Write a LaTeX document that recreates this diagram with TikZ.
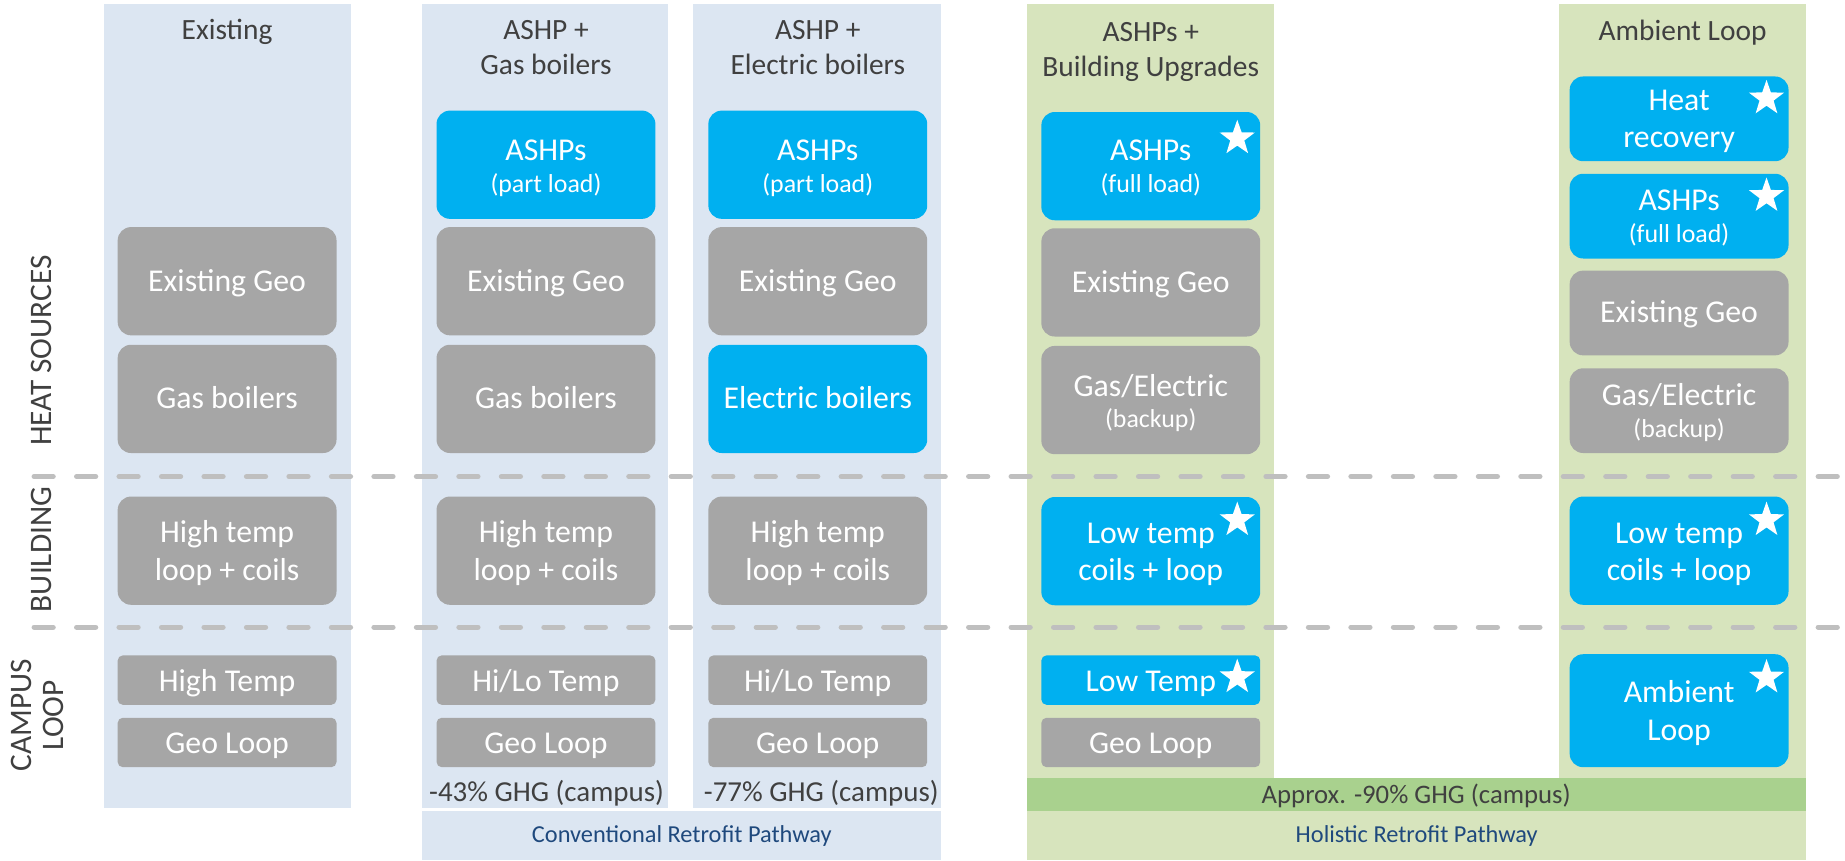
\documentclass[tikz,border=0pt]{standalone}
\usepackage{fontspec}
\setmainfont{Carlito}
\usetikzlibrary{shapes.geometric}
\definecolor{bgblue}{HTML}{DCE6F2}
\definecolor{bggreen}{HTML}{D7E4BD}
\definecolor{bandgreen}{HTML}{A9D18E}
\definecolor{boxblue}{HTML}{00B0F0}
\definecolor{boxgray}{HTML}{A6A6A6}
\definecolor{txtdark}{HTML}{404040}
\definecolor{pathblue}{HTML}{1F497D}
\definecolor{dashgray}{HTML}{BFBFBF}
\begin{document}
\begin{tikzpicture}[x=0.5pt,y=-0.5pt,
  bx/.style={rounded corners=5.7pt, minimum width=93pt, inner sep=0pt},
  gbx/.style={bx, fill=boxgray},
  bbx/.style={bx, fill=boxblue},
  hbig/.style={minimum height=46pt},
  hmid/.style={minimum height=36pt},
  htall/.style={minimum height=48pt},
  hsmall/.style={minimum height=21pt, rounded corners=2.2pt},
  bt/.style={anchor=base, inner sep=0pt, text=white, font=\fontsize{13.5}{16}\selectfont},
  bts/.style={anchor=base, inner sep=0pt, text=white, font=\fontsize{11}{13}\selectfont},
  starw/.style={star, star points=5, star point ratio=2.5, fill=white, draw=none,
                minimum size=15.7pt, inner sep=0pt},
  ttl/.style={anchor=base, text=txtdark, font=\fontsize{12.5}{15}\selectfont, inner sep=0pt},
  ghg/.style={anchor=base, text=txtdark, font=\fontsize{12.3}{14}\selectfont, inner sep=0pt},
  ghgb/.style={anchor=base, text=txtdark, font=\fontsize{11.35}{13}\selectfont, inner sep=0pt},
  pathw/.style={anchor=base, text=pathblue, font=\fontsize{10.35}{12}\selectfont, inner sep=0pt},
  rowl/.style={rotate=90, anchor=base, text=txtdark, font=\fontsize{13.3}{14}\selectfont, inner sep=0pt},
  sepline/.style={draw=dashgray, line width=2.2pt, line cap=round, dash pattern=on 8.1pt off 9.95pt}
]
\useasboundingbox (0,0) rectangle (1568,731);

% column backgrounds
\fill[bgblue] (88,3) rectangle (298,687);
\fill[bgblue] (359,3) rectangle (568,687);
\fill[bgblue] (589,3) rectangle (800,687);
\fill[bgblue] (359,689) rectangle (800,731);
\fill[bggreen] (873,3) rectangle (1083,661.5);
\fill[bggreen] (1325,3) rectangle (1535,661.5);
\fill[bandgreen] (873,661.5) rectangle (1535,689.3);
\fill[bggreen] (873,689.3) rectangle (1535,731);

% separators
\coordinate (s1a) at (29,405); \coordinate (s1b) at (1568,405);
\coordinate (s2a) at (29,533); \coordinate (s2b) at (1568,533);
\draw[sepline] (s1a) -- (s1b);
\draw[sepline] (s2a) -- (s2b);

% row labels
\node[rowl] (lheat) at (43.9,298) {HEAT SOURCES};
\node[rowl] (lbuild) at (43.9,467) {BUILDING};
\node[rowl] (lcampus) at (27,608) {CAMPUS};
\node[rowl] (lloop) at (53.8,608) {LOOP};

% titles
\node[ttl] (t1) at (193,34) {Existing};
\node[ttl] (t2a) at (464,33.5) {ASHP +};
\node[ttl] (t2b) at (464,63) {Gas boilers};
\node[ttl] (t3a) at (695,33.5) {ASHP +};
\node[ttl] (t3b) at (695,63) {Electric boilers};
\node[ttl] (t4a) at (978,35.2) {ASHPs +};
\node[ttl] (t4b) at (978,64.6) {Building Upgrades};
\node[ttl] (t5) at (1430,34.5) {Ambient Loop};

% column 1
\node[gbx,hbig] (c1geo) at (193,239) {};
\node[bt] (c1geo-t) at (193,247.5) {Existing Geo};
\node[gbx,hbig] (c1gas) at (193,339) {};
\node[bt] (c1gas-t) at (193,347.5) {Gas boilers};
\node[gbx,hbig] (c1ht) at (193,468) {};
\node[bt] (c1ht-t1) at (193,461) {High temp};
\node[bt] (c1ht-t2) at (193,493) {loop + coils};
\node[gbx,hsmall] (c1hl) at (193,578) {};
\node[bt] (c1hl-t) at (193,587.5) {High Temp};
\node[gbx,hsmall] (c1gl) at (193,631) {};
\node[bt] (c1gl-t) at (193,640.5) {Geo Loop};

% column 2
\node[bbx,hbig] (c2ashp) at (464,140) {};
\node[bt] (c2ashp-t1) at (464,136.8) {ASHPs};
\node[bts] (c2ashp-t2) at (464,163.7) {(part load)};
\node[gbx,hbig] (c2geo) at (464,239) {};
\node[bt] (c2geo-t) at (464,247.5) {Existing Geo};
\node[gbx,hbig] (c2gas) at (464,339) {};
\node[bt] (c2gas-t) at (464,347.5) {Gas boilers};
\node[gbx,hbig] (c2ht) at (464,468) {};
\node[bt] (c2ht-t1) at (464,461) {High temp};
\node[bt] (c2ht-t2) at (464,493) {loop + coils};
\node[gbx,hsmall] (c2hl) at (464,578) {};
\node[bt] (c2hl-t) at (464,587.5) {Hi/Lo Temp};
\node[gbx,hsmall] (c2gl) at (464,631) {};
\node[bt] (c2gl-t) at (464,640.5) {Geo Loop};
\node[ghg] (g2) at (464.5,681) {-43\% GHG (campus)};

% column 3
\node[bbx,hbig] (c3ashp) at (695,140) {};
\node[bt] (c3ashp-t1) at (695,136.8) {ASHPs};
\node[bts] (c3ashp-t2) at (695,163.7) {(part load)};
\node[gbx,hbig] (c3geo) at (695,239) {};
\node[bt] (c3geo-t) at (695,247.5) {Existing Geo};
\node[bbx,hbig] (c3el) at (695,339) {};
\node[bt] (c3el-t) at (695,347.5) {Electric boilers};
\node[gbx,hbig] (c3ht) at (695,468) {};
\node[bt] (c3ht-t1) at (695,461) {High temp};
\node[bt] (c3ht-t2) at (695,493) {loop + coils};
\node[gbx,hsmall] (c3hl) at (695,578) {};
\node[bt] (c3hl-t) at (695,587.5) {Hi/Lo Temp};
\node[gbx,hsmall] (c3gl) at (695,631) {};
\node[bt] (c3gl-t) at (695,640.5) {Geo Loop};
\node[ghg] (g3) at (698,681) {-77\% GHG (campus)};

\node[pathw] (pc) at (579.5,716) {Conventional Retrofit Pathway};

% column 4
\node[bbx,hbig] (c4ashp) at (978,141.2) {};
\node[bt] (c4ashp-t1) at (978,136.8) {ASHPs};
\node[bts] (c4ashp-t2) at (978,163.7) {(full load)};
\node[gbx,hbig] (c4geo) at (978,240) {};
\node[bt] (c4geo-t) at (978,248.5) {Existing Geo};
\node[gbx,hbig] (c4gas) at (978,340) {};
\node[bt] (c4gas-t1) at (978,336.8) {Gas/Electric};
\node[bts] (c4gas-t2) at (978,363.7) {(backup)};
\node[bbx,hbig] (c4lt) at (978,468.4) {};
\node[bt] (c4lt-t1) at (978,461.7) {Low temp};
\node[bt] (c4lt-t2) at (978,493.5) {coils + loop};
\node[bbx,hsmall] (c4lo) at (978,578) {};
\node[bt] (c4lo-t) at (978,587.5) {Low Temp};
\node[gbx,hsmall] (c4gl) at (978,631) {};
\node[bt] (c4gl-t) at (978,640.5) {Geo Loop};
\node[starw] (st41) at (1051.5,117.5) {};
\node[starw] (st42) at (1051.5,442) {};
\node[starw] (st43) at (1051.5,575.5) {};

% column 5
\node[bbx,hmid] (c5hr) at (1427,101) {};
\node[bt] (c5hr-t1) at (1427,94.1) {Heat};
\node[bt] (c5hr-t2) at (1427,125.2) {recovery};
\node[bbx,hmid] (c5ashp) at (1427,183.7) {};
\node[bt] (c5ashp-t1) at (1427,178.5) {ASHPs};
\node[bts] (c5ashp-t2) at (1427,206.2) {(full load)};
\node[gbx,hmid] (c5geo) at (1427,266) {};
\node[bt] (c5geo-t) at (1427,274.5) {Existing Geo};
\node[gbx,hmid] (c5gas) at (1427,349) {};
\node[bt] (c5gas-t1) at (1427,344.5) {Gas/Electric};
\node[bts] (c5gas-t2) at (1427,372) {(backup)};
\node[bbx,hbig] (c5lt) at (1427,468) {};
\node[bt] (c5lt-t1) at (1427,461.5) {Low temp};
\node[bt] (c5lt-t2) at (1427,493.5) {coils + loop};
\node[bbx,htall] (c5amb) at (1427,604) {};
\node[bt] (c5amb-t1) at (1427,596.9) {Ambient};
\node[bt] (c5amb-t2) at (1427,628.9) {Loop};
\node[starw] (st51) at (1501.3,83.6) {};
\node[starw] (st52) at (1501.3,166.5) {};
\node[starw] (st53) at (1501.3,442) {};
\node[starw] (st54) at (1501.3,575.8) {};

% bands text
\node[ghgb] (g45) at (1203.6,683) {Approx. -90\% GHG (campus)};
\node[pathw] (ph) at (1204,716) {Holistic Retrofit Pathway};
\end{tikzpicture}
\end{document}
